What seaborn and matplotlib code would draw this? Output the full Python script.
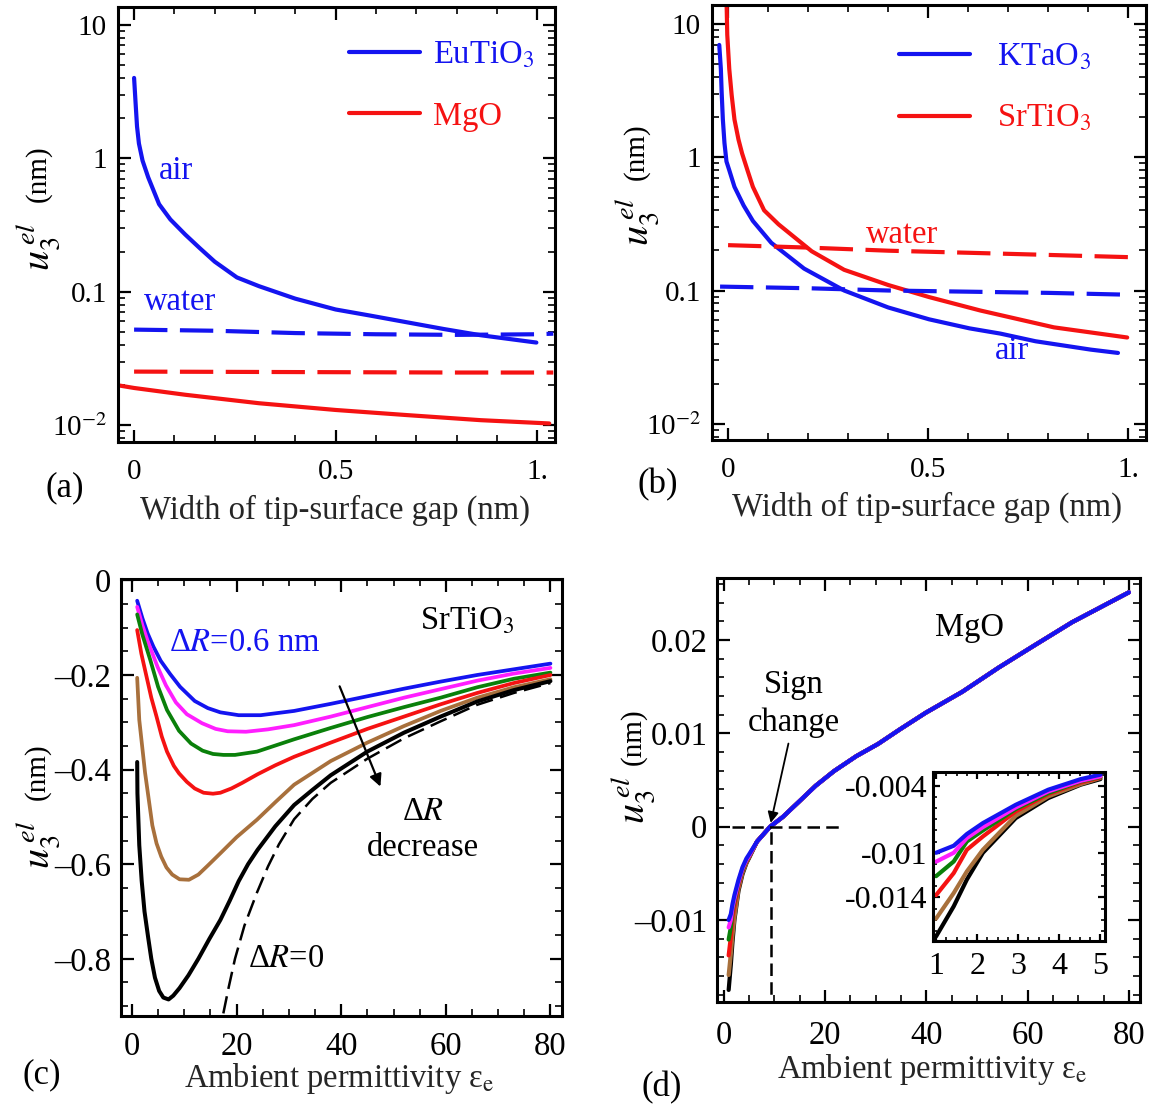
import numpy as np
import pandas as pd
import matplotlib
matplotlib.use("Agg")
import matplotlib.pyplot as plt
import seaborn as sns
from matplotlib.ticker import (FixedLocator, FixedFormatter, MultipleLocator,
                               LogLocator, NullFormatter)
from matplotlib.lines import Line2D

# ---------------- data: panel (a) ----------------
a_air_gap = [0, 0.0037, 0.0073, 0.012, 0.021, 0.035, 0.062, 0.09, 0.127, 0.163, 0.2, 0.255, 0.31,
             0.40, 0.5, 0.585, 0.677, 0.769, 0.86, 0.998]
a_eutio3_air = [4.0, 2.6, 1.73, 1.29, 0.96, 0.72, 0.453, 0.348, 0.268, 0.212, 0.168, 0.128, 0.110,
                0.0887, 0.0736, 0.0663, 0.059, 0.0525, 0.0472, 0.0416]
a_water_gap = [0, 0.2, 0.4, 0.6, 0.8, 1.0, 1.04]
a_eutio3_water = [0.052, 0.051, 0.049, 0.048, 0.0475, 0.048, 0.0485]
a_mgo_water = [0.0252, 0.0251, 0.0250, 0.0249, 0.0248, 0.0248, 0.0248]
a_mgo_air_gap = [-0.04, 0, 0.127, 0.31, 0.5, 0.677, 0.86, 1.03]
a_mgo_air = [0.0199, 0.019, 0.0169, 0.0146, 0.013, 0.0119, 0.0109, 0.0103]

# ---------------- data: panel (b) ----------------
b_ktao3_air_gap = [-0.022, -0.018, -0.016, -0.013, -0.009, -0.004, 0.003, 0.016, 0.039, 0.062, 0.108,
                   0.19, 0.29, 0.40, 0.502, 0.603, 0.68, 0.768, 0.906, 0.974]
b_ktao3_air = [6.97, 4.6, 3.07, 1.92, 1.28, 0.93, 0.80, 0.60, 0.434, 0.333, 0.228,
               0.146, 0.100, 0.0746, 0.0608, 0.052, 0.0475, 0.0416, 0.036, 0.034]
b_srtio3_air_gap = [-0.004, -0.002, 0.003, 0.009, 0.016, 0.026, 0.035, 0.049, 0.062, 0.09, 0.126,
                    0.209, 0.29, 0.40, 0.502, 0.63, 0.722, 0.814, 0.997]
b_srtio3_air = [16.0, 8.3, 4.6, 2.93, 1.92, 1.36, 1.07, 0.79, 0.60, 0.40, 0.314,
                0.197, 0.143, 0.110, 0.0893, 0.0708, 0.0612, 0.0529, 0.0444]
b_ktao3_water_gap = [-0.02, 0.2, 0.4, 0.6, 0.8, 1.0]
b_ktao3_water = [0.107, 0.104, 0.100, 0.098, 0.096, 0.093]
b_srtio3_water_gap = [0.0, 0.2, 0.4, 0.6, 0.8, 1.0]
b_srtio3_water = [0.219, 0.210, 0.199, 0.192, 0.185, 0.178]

# ---------------- data: panel (c) SrTiO3 ----------------
c_blue_eps = [1.0, 2.0, 3.0, 4.1, 5.5, 7.3, 9.2, 12.0, 14.5, 16.9, 20.4, 24.6, 31, 38, 45, 52, 59, 66, 73, 80]
c_blue = [-0.043, -0.080, -0.112, -0.140, -0.170, -0.198, -0.225, -0.255, -0.270, -0.279, -0.285, -0.285,
          -0.276, -0.261, -0.245, -0.229, -0.214, -0.200, -0.188, -0.176]
c_magenta_eps = [1.0, 2.0, 3.0, 4.9, 6.5, 8.4, 10.5, 13.4, 16.0, 18.3, 21.8, 26, 31, 38, 45, 52, 59, 66, 73, 80]
c_magenta = [-0.056, -0.095, -0.128, -0.183, -0.222, -0.258, -0.283, -0.302, -0.314, -0.319, -0.320, -0.315,
             -0.306, -0.288, -0.268, -0.248, -0.230, -0.212, -0.197, -0.185]
c_green_eps = [1.0, 2.0, 3.5, 5.0, 6.7, 9.0, 11.3, 13.5, 15.5, 17.5, 19.7, 23.9, 31, 38, 45, 52, 59, 66, 73, 80]
c_green = [-0.072, -0.115, -0.168, -0.225, -0.274, -0.318, -0.345, -0.360, -0.367, -0.369, -0.369, -0.362,
           -0.336, -0.312, -0.289, -0.268, -0.248, -0.226, -0.208, -0.195]
c_red_eps = [1.0, 1.8, 2.8, 3.7, 4.7, 5.7, 6.7, 8.0, 9.0, 10.5, 12.0, 13.7, 15.5, 16.9, 19.0, 21.1, 24,
             27.4, 31, 38, 45, 52, 59, 66, 73, 80]
c_red = [-0.105, -0.155, -0.204, -0.248, -0.288, -0.330, -0.362, -0.392, -0.408, -0.426, -0.440, -0.449,
         -0.451, -0.449, -0.440, -0.428, -0.410, -0.391, -0.373, -0.343, -0.314, -0.288, -0.262, -0.238,
         -0.217, -0.200]
c_brown_eps = [1.0, 1.4, 2.5, 3.9, 4.7, 5.6, 6.6, 7.7, 9.1, 10.9, 12.7, 14.5, 16.9, 20, 23.9, 27.5,
               31, 38, 45, 52, 59, 66, 73, 80]
c_brown = [-0.206, -0.295, -0.406, -0.518, -0.556, -0.584, -0.607, -0.622, -0.632, -0.633, -0.622, -0.603,
           -0.577, -0.543, -0.506, -0.468, -0.432, -0.382, -0.343, -0.308, -0.276, -0.248, -0.226, -0.209]
c_black_eps = [1.0, 1.05, 1.4, 1.86, 2.4, 3.1, 3.7, 4.4, 5.2, 6.0, 7.0, 7.9, 9.1, 10.8, 12.7, 14.8,
               16.9, 18.7, 20.4, 22.2, 24, 27.4, 31, 34.5, 38, 45, 52, 59, 66, 73, 80]
c_black = [-0.384, -0.45, -0.56, -0.635, -0.70, -0.755, -0.80, -0.84, -0.868, -0.882, -0.886, -0.878,
           -0.862, -0.835, -0.800, -0.758, -0.718, -0.677, -0.636, -0.600, -0.570, -0.520, -0.475, -0.443,
           -0.412, -0.362, -0.322, -0.288, -0.256, -0.232, -0.213]
c_limit_eps = [16.0, 17.2, 18.5, 19.7, 21.5, 23.9, 26.0, 28.1, 31, 34.5, 38, 45, 52, 59, 66, 73, 80]
c_limit = [-1.02, -0.93, -0.86, -0.80, -0.73, -0.66, -0.605, -0.558, -0.505, -0.462, -0.428, -0.377,
           -0.334, -0.298, -0.263, -0.238, -0.217]

# ---------------- data: panel (d) MgO ----------------
d_eps_low = [1.0, 1.43, 1.75, 2.14, 2.94, 3.73, 4.52, 5.0]
d_blue_low = [-0.0100, -0.00937, -0.00832, -0.00734, -0.0057, -0.00435, -0.0034, -0.0030]
d_magenta_low = [-0.0108, -0.0100, -0.00868, -0.0077, -0.00594, -0.0045, -0.00355, -0.00315]
d_green_low = [-0.0121, -0.01078, -0.00899, -0.0080, -0.00608, -0.00465, -0.0036, -0.0032]
d_red_low = [-0.0138, -0.01182, -0.00973, -0.00854, -0.0063, -0.00474, -0.0037, -0.00325]
d_brown_low = [-0.0159, -0.01361, -0.01167, -0.00973, -0.00668, -0.00495, -0.00385, -0.0033]
d_black_low = [-0.0175, -0.0148, -0.0124, -0.0100, -0.00689, -0.0051, -0.0039, -0.0034]
d_eps_high = [6.6, 9.2, 11.7, 14.6, 18.2, 21.8, 26.2, 30.5, 34.8, 39.9, 47.1, 54.3, 61.6, 68.8, 80.0]
d_high = [-0.0016, 0.0, 0.00104, 0.00253, 0.00439, 0.00595, 0.00755, 0.00886, 0.01042, 0.0122,
          0.01444, 0.01704, 0.0195, 0.0219, 0.0251]
d_sign_change_eps = 9.3

BLUE = "#1414f0"
RED = "#f51212"
MAGENTA = "#ff1eff"
GREEN = "#0a800a"
BROWN = "#a8703c"
BLACK = "#000000"

sns.set_theme(style="ticks")
plt.rcParams.update({
    "font.family": ["Liberation Serif", "DejaVu Serif"],
    "mathtext.fontset": "stix",
    "axes.linewidth": 2.0,
    "axes.edgecolor": "black",
    "text.color": "black",
    "axes.unicode_minus": False,
})

FS = 23.5
LW = 3.0

fig = plt.figure(figsize=(11.52, 11.10), dpi=100)
ax_a = fig.add_axes([0.1024, 0.6018, 0.3793, 0.3919])
ax_b = fig.add_axes([0.6181, 0.6036, 0.3767, 0.3919])
ax_c = fig.add_axes([0.1050, 0.0847, 0.3828, 0.3937])
ax_d = fig.add_axes([0.6224, 0.0973, 0.3672, 0.3820])


def line(ax, x, y, color, ls="-", lw=LW):
    sns.lineplot(x=x, y=y, ax=ax, color=color, lw=lw, sort=False,
                 estimator=None, linestyle=ls, legend=False)


def style(ax, xpad, ypad, fs):
    ax.tick_params(which="both", direction="in", top=True, right=True,
                   colors="black", labelsize=fs)
    ax.tick_params(which="major", length=9, width=1.6)
    ax.tick_params(which="minor", length=5, width=1.2)
    ax.tick_params(axis="x", which="both", pad=xpad)
    ax.tick_params(axis="y", which="both", pad=ypad)
    for s in ax.spines.values():
        s.set_linewidth(2.2)
        s.set_color("black")
    ax.grid(False)


def ylabel(ax, xf, y_nm, y_u):
    ax.set_ylabel("")
    ax.text(xf, y_nm, "(nm)", transform=ax.transAxes, rotation=90, fontsize=21,
            ha="center", va="center")
    ax.text(xf, y_u, r"$u_3^{\,el}$", transform=ax.transAxes, rotation=90, fontsize=29,
            ha="center", va="center")


def xlabel(ax, text, xf, yf):
    ax.set_xlabel(text, fontsize=FS)
    ax.xaxis.label.set_va("center")
    ax.xaxis.set_label_coords(xf, yf)


DASH = (0, (8, 3))

# ---------- panel (a) ----------
line(ax_a, a_air_gap, a_eutio3_air, BLUE)
line(ax_a, a_water_gap, a_eutio3_water, BLUE, DASH)
line(ax_a, a_water_gap, a_mgo_water, RED, DASH)
line(ax_a, a_mgo_air_gap, a_mgo_air, RED)
# ---------- panel (b) ----------
line(ax_b, b_ktao3_air_gap, b_ktao3_air, BLUE)
line(ax_b, b_srtio3_air_gap, b_srtio3_air, RED)
line(ax_b, b_ktao3_water_gap, b_ktao3_water, BLUE, DASH)
line(ax_b, b_srtio3_water_gap, b_srtio3_water, RED, DASH)

for ax, ylim in ((ax_a, (0.00748, 13.6)), (ax_b, (0.00755, 13.9))):
    ax.set_yscale("log")
    ax.set_xlim(-0.04, 1.044)
    ax.set_ylim(*ylim)
    ax.yaxis.set_major_locator(FixedLocator([0.01, 0.1, 1, 10]))
    ax.yaxis.set_major_formatter(FixedFormatter([r"10$^{\mathrm{-2}}$", "0.1", "1", "10"]))
    ax.yaxis.set_minor_locator(LogLocator(base=10, subs=np.arange(2, 10)))
    ax.yaxis.set_minor_formatter(NullFormatter())
    ax.xaxis.set_major_locator(FixedLocator([0, 0.5, 1.0]))
    ax.xaxis.set_major_formatter(FixedFormatter(["0", "0.5", "1."]))
    ax.xaxis.set_minor_locator(MultipleLocator(0.1))
    style(ax, 12, 8, 21)

xlabel(ax_a, "Width of tip-surface gap (nm)", 0.497, -0.156)
xlabel(ax_b, "Width of tip-surface gap (nm)", 0.495, -0.154)
ylabel(ax_a, -0.183, 0.616, 0.448)
ylabel(ax_b, -0.175, 0.662, 0.501)

ax_a.text(0.104, 0.81, "air", color=BLUE, fontsize=FS, ha="center", va="center")
ax_a.text(0.113, 0.0838, "water", color=BLUE, fontsize=FS, ha="center", va="center")
ax_b.text(0.435, 0.264, "water", color=RED, fontsize=FS, ha="center", va="center")
ax_b.text(0.709, 0.0351, "air", color=BLUE, fontsize=FS, ha="center", va="center")

h_a = [Line2D([], [], color=BLUE, lw=LW), Line2D([], [], color=RED, lw=LW)]
ax_a.legend(h_a, ["EuTiO$_3$", "MgO"], loc="upper left", bbox_to_anchor=(0.5, 0.955),
            frameon=False, fontsize=FS, handlelength=2.15, handletextpad=0.4,
            labelspacing=0.95, borderaxespad=0, labelcolor="linecolor")
h_b = [Line2D([], [], color=BLUE, lw=LW), Line2D([], [], color=RED, lw=LW)]
ax_b.legend(h_b, ["KTaO$_3$", "SrTiO$_3$"], loc="upper left", bbox_to_anchor=(0.4, 0.945),
            frameon=False, fontsize=FS, handlelength=2.2, handletextpad=0.8,
            labelspacing=0.95, borderaxespad=0, labelcolor="linecolor")

# ---------- panel (c) ----------
line(ax_c, c_blue_eps, c_blue, BLUE, lw=2.7)
line(ax_c, c_magenta_eps, c_magenta, MAGENTA, lw=2.7)
line(ax_c, c_green_eps, c_green, GREEN, lw=2.7)
line(ax_c, c_red_eps, c_red, RED, lw=2.7)
line(ax_c, c_brown_eps, c_brown, BROWN, lw=2.7)
line(ax_c, c_black_eps, c_black, BLACK, lw=2.9)
line(ax_c, c_limit_eps, c_limit, BLACK, (0, (7, 3)), lw=1.8)
ax_c.set_xlim(-2.1, 82.2)
ax_c.set_ylim(-0.921, 0.003)
ax_c.xaxis.set_major_locator(MultipleLocator(20))
ax_c.xaxis.set_minor_locator(MultipleLocator(5))
ax_c.yaxis.set_major_locator(FixedLocator([-0.8, -0.6, -0.4, -0.2, 0.0]))
ax_c.yaxis.set_major_formatter(FixedFormatter(["\u20130.8", "\u20130.6", "\u20130.4", "\u20130.2", "0"]))
ax_c.yaxis.set_minor_locator(MultipleLocator(0.05))
style(ax_c, 11, 7, 23.5)
xlabel(ax_c, "Ambient permittivity \u03b5$_\\mathrm{e}$", 0.494, -0.142)
ylabel(ax_c, -0.19, 0.558, 0.391)
ax_c.text(7.0, -0.131, "\u0394$R$=0.6 nm", color=BLUE, fontsize=FS, ha="left", va="center")
ax_c.text(55.0, -0.087, "SrTiO$_3$", color=BLACK, fontsize=FS, ha="left", va="center")
ax_c.text(55.6, -0.49, "\u0394$R$", fontsize=FS, ha="center", va="center")
ax_c.text(55.6, -0.565, "decrease", fontsize=FS, ha="center", va="center")
ax_c.text(22.2, -0.80, "\u0394$R$=0", fontsize=FS, ha="left", va="center")
ax_c.annotate("", xy=(47.5, -0.436), xytext=(39.7, -0.224),
              arrowprops=dict(arrowstyle="-|>", color="black", lw=1.6,
                              mutation_scale=18, shrinkA=0, shrinkB=0))

# ---------- panel (d) ----------
d_series = [(d_black_low, BLACK), (d_brown_low, BROWN), (d_red_low, RED),
            (d_green_low, GREEN), (d_magenta_low, MAGENTA), (d_blue_low, BLUE)]
for low, col in d_series:
    line(ax_d, d_eps_low + d_eps_high, low + d_high, col, lw=3.0)
ax_d.set_xlim(-1.3, 82.2)
ax_d.set_ylim(-0.01879, 0.02664)
ax_d.xaxis.set_major_locator(MultipleLocator(20))
ax_d.xaxis.set_minor_locator(MultipleLocator(5))
ax_d.yaxis.set_major_locator(FixedLocator([-0.01, 0.0, 0.01, 0.02]))
ax_d.yaxis.set_major_formatter(FixedFormatter(["\u20130.01", "0", "0.01", "0.02"]))
ax_d.yaxis.set_minor_locator(MultipleLocator(0.002))
style(ax_d, 13, 7, 23.5)
ax_d.hlines(0.0, 1.6, 23.6, colors="black", linestyles=(0, (5, 2.5)), lw=1.8)
ax_d.vlines(d_sign_change_eps, -0.02, 0.0, colors="black", linestyles=(0, (5, 2.5)), lw=1.8)
xlabel(ax_d, "Ambient permittivity \u03b5$_\\mathrm{e}$", 0.508, -0.16)
ylabel(ax_d, -0.199, 0.625, 0.476)
ax_d.text(48.6, 0.0213, "MgO", fontsize=FS, ha="center", va="center")
ax_d.text(13.9, 0.0152, "Sign", fontsize=FS, ha="center", va="center")
ax_d.text(13.9, 0.0111, "change", fontsize=FS, ha="center", va="center")
ax_d.annotate("", xy=(9.3, 0.0004), xytext=(12.8, 0.0089),
              arrowprops=dict(arrowstyle="-|>", color="black", lw=1.3,
                              mutation_scale=16, shrinkA=0, shrinkB=0))

axins = ax_d.inset_axes([0.511, 0.144, 0.407, 0.399])
for low, col in d_series:
    line(axins, d_eps_low, low, col, lw=3.0)
axins.set_xlim(0.93, 5.12)
axins.set_ylim(-0.0179, -0.00274)
axins.xaxis.set_major_locator(MultipleLocator(1))
axins.xaxis.set_minor_locator(MultipleLocator(0.25))
axins.yaxis.set_major_locator(FixedLocator([-0.014, -0.01, -0.004]))
axins.yaxis.set_major_formatter(FixedFormatter(["-0.014", "-0.01", "-0.004"]))
axins.yaxis.set_minor_locator(MultipleLocator(0.001))
style(axins, 8, 4, 23)
axins.tick_params(which="major", length=5)
axins.tick_params(which="minor", length=3)
axins.set_xlabel("")
axins.set_ylabel("")

# panel letters
fig.text(0.0564, 0.5604, "(a)", fontsize=25, ha="center", va="center")
fig.text(0.571, 0.563, "(b)", fontsize=25, ha="center", va="center")
fig.text(0.0365, 0.0315, "(c)", fontsize=25, ha="center", va="center")
fig.text(0.5747, 0.0198, "(d)", fontsize=25, ha="center", va="center")

fig.savefig("out.png", dpi=100, facecolor="white")
